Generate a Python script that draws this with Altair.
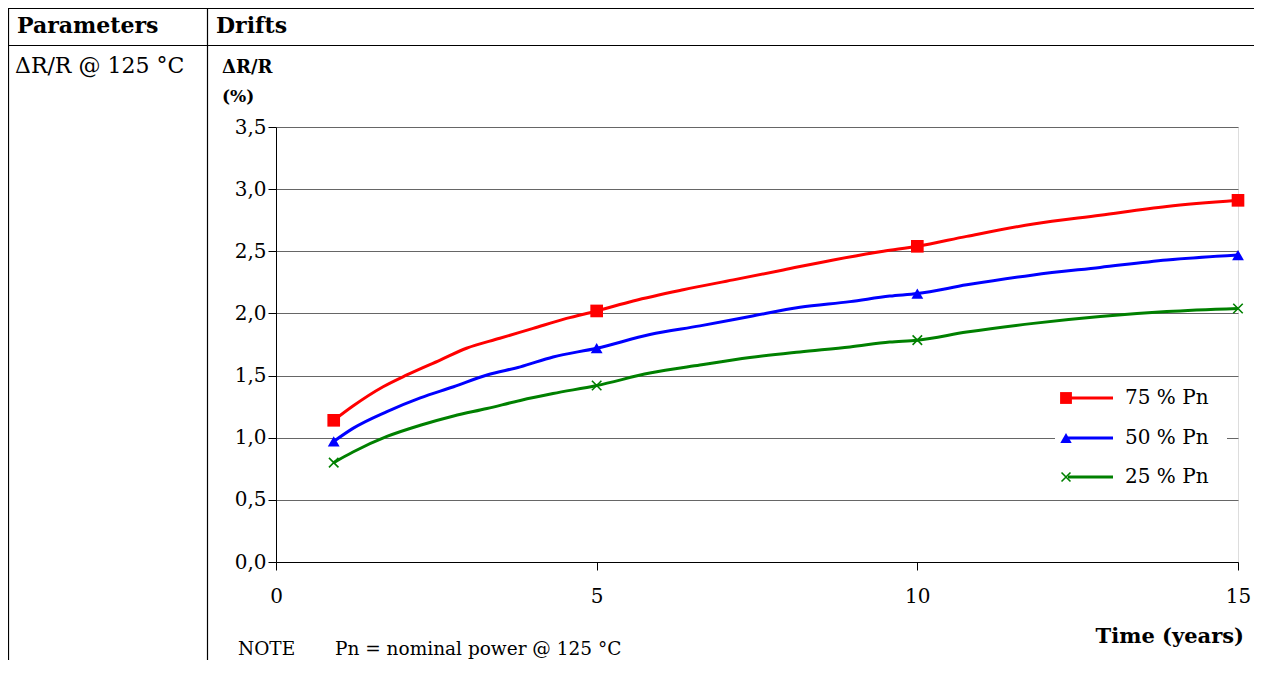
import altair as alt
import pandas as pd

# ---- data ----
series_names = ["75 % Pn", "50 % Pn", "25 % Pn"]
series_colors = ["#ff0000", "#0000ff", "#008000"]

years_75 = [0.9, 1.2, 1.67, 2.04, 2.56, 2.97, 3.49, 4.01, 4.53, 5.0, 5.57, 6.35,
            7.13, 7.91, 8.69, 9.47, 10.0, 10.77, 11.81, 12.85, 13.89, 15.0]
drift_75 = [1.14, 1.255, 1.41, 1.505, 1.625, 1.72, 1.80, 1.88, 1.96, 2.02, 2.10, 2.19,
            2.27, 2.35, 2.43, 2.50, 2.54, 2.62, 2.72, 2.79, 2.86, 2.91]

years_50 = [0.9, 1.2, 1.73, 2.25, 2.77, 3.29, 3.81, 4.32, 5.0, 5.83, 6.61, 7.39,
            8.17, 8.95, 9.57, 10.0, 10.77, 11.81, 12.85, 13.89, 15.0]
drift_50 = [0.97, 1.075, 1.21, 1.32, 1.41, 1.505, 1.57, 1.65, 1.72, 1.83, 1.90, 1.975,
            2.05, 2.095, 2.14, 2.16, 2.23, 2.31, 2.37, 2.43, 2.47]

years_25 = [0.9, 1.2, 1.73, 2.25, 2.77, 3.29, 3.81, 4.32, 5.0, 5.83, 6.61, 7.39,
            8.17, 8.95, 9.57, 10.0, 10.77, 11.81, 12.85, 13.89, 15.0]
drift_25 = [0.80, 0.885, 1.01, 1.10, 1.175, 1.235, 1.30, 1.355, 1.42, 1.52, 1.585, 1.645,
            1.69, 1.73, 1.77, 1.785, 1.85, 1.92, 1.975, 2.015, 2.04]

marker_years = [0.9, 5.0, 10.0, 15.0]
y_ticks = [0, 0.5, 1.0, 1.5, 2.0, 2.5, 3.0, 3.5]
x_ticks = [0, 5, 10, 15]

rows = []
for name, ys, vs in zip(series_names, [years_75, years_50, years_25],
                        [drift_75, drift_50, drift_25]):
    for t, v in zip(ys, vs):
        rows.append({"series": name, "year": t, "drift": v,
                     "marker": t in marker_years})
df = pd.DataFrame(rows)

FONT = "DejaVu Serif"
W, H = 962, 435
PAD_L, PAD_T, PAD_R, PAD_B = 268, 119, 16, 98

xscale = alt.Scale(domain=[0, 15], nice=False, zero=True)
yscale = alt.Scale(domain=[0, 3.5], nice=False)
cscale = alt.Scale(domain=series_names, range=series_colors)

base = alt.Chart(df)

lines = base.mark_line(strokeWidth=3, interpolate="monotone").encode(
    x=alt.X("year:Q", scale=xscale,
            axis=alt.Axis(values=x_ticks, format="d", title=None, grid=False,
                          tickSize=8, tickColor="black", domainColor="black",
                          labelColor="black", labelFont=FONT, labelFontSize=20,
                          labelPadding=16, labelFlush=False)),
    y=alt.Y("drift:Q", scale=yscale,
            axis=alt.Axis(values=y_ticks, title=None, grid=True, gridColor="#666666",
                          gridWidth=1, tickSize=8, tickColor="black",
                          domainColor="black", labelColor="black", labelFont=FONT,
                          labelFontSize=20, labelPadding=2,
                          labelExpr="replace(format(datum.value, '.1f'), '.', ',')")),
    color=alt.Color("series:N", scale=cscale, legend=None),
    detail="series:N",
)

def marker_layer(name, **mk):
    return alt.Chart(df).transform_filter(
        (alt.datum.series == name) & (alt.datum.marker == True)
    ).mark_point(**mk).encode(
        x=alt.X("year:Q", scale=xscale),
        y=alt.Y("drift:Q", scale=yscale),
    )

XPATH = "M-1,-1L1,1M-1,1L1,-1"

m75 = marker_layer(series_names[0], shape="square", filled=True, size=160,
                   color=series_colors[0], opacity=1)
m50 = marker_layer(series_names[1], shape="triangle-up", filled=True, size=140,
                   color=series_colors[1], opacity=1)
m25 = marker_layer(series_names[2], shape=XPATH, filled=False, size=90,
                   stroke=series_colors[2], strokeWidth=1.6, opacity=1)

one = pd.DataFrame({"k": [0]})

def text(t, x, y, size, bold=False, align="left", baseline="alphabetic"):
    return alt.Chart(one).mark_text(
        text=t, font=FONT, fontSize=size, fontWeight="bold" if bold else "normal",
        align=align, baseline=baseline, color="black"
    ).encode(x=alt.value(x), y=alt.value(y))

def rule(x, x2, y, y2, color="black", width=1.2):
    return alt.Chart(one).mark_rule(color=color, strokeWidth=width).encode(
        x=alt.value(x), x2=alt.value(x2), y=alt.value(y), y2=alt.value(y2))

# legend (drawn manually to reproduce line+marker keys)
legend_box = alt.Chart(one).mark_rect(fill="white").encode(
    x=alt.value(779), x2=alt.value(951), y=alt.value(253), y2=alt.value(363))
legend_layers = [legend_box]
leg_y = [271, 311, 350]
leg_shapes = [dict(shape="square", filled=True, size=140),
              dict(shape="triangle-up", filled=True, size=130),
              dict(shape=XPATH, filled=False, size=80, strokeWidth=1.6)]
for name, col, ly, shp in zip(series_names, series_colors, leg_y, leg_shapes):
    legend_layers.append(rule(792, 837, ly, ly, color=col, width=3))
    if shp.get("filled", True):
        legend_layers.append(alt.Chart(one).mark_point(color=col, opacity=1, **shp)
                             .encode(x=alt.value(790), y=alt.value(ly)))
    else:
        legend_layers.append(alt.Chart(one).mark_point(stroke=col, opacity=1, **shp)
                             .encode(x=alt.value(790), y=alt.value(ly)))
    legend_layers.append(text(name, 849, ly, 20, baseline="middle"))

# table frame and texts
frame = [
    rule(-268, W + PAD_R, -118.5, -118.5),
    rule(-268, W + PAD_R, -81.5, -81.5),
    rule(-267.5, -267.5, -119, H + PAD_B),
    rule(-68.5, -68.5, -119, H + PAD_B),
]
texts = [
    text("Parameters", -259, -94, 22, bold=True),
    text("Drifts", -60, -94, 22, bold=True),
    text("\u0394R/R @ 125 \u00b0C", -261, -54, 22),
    text("\u0394R/R", -54, -54, 18, bold=True),
    text("(%)", -54, -25, 17, bold=True),
    text("Time (years)", 968, 516, 21, bold=True, align="right"),
    text("NOTE", -38, 528, 18.5),
    text("Pn = nominal power @ 125 \u00b0C", 59, 528, 18.5),
]

chart = alt.layer(
    lines, m75, m50, m25, *legend_layers, *frame, *texts
).properties(
    width=W, height=H,
    autosize=alt.AutoSizeParams(type="none"),
    padding={"left": PAD_L, "top": PAD_T, "right": PAD_R, "bottom": PAD_B},
).configure_view(
    stroke="#888888", strokeWidth=1.5
).configure(background="white")

chart.save("out.html", embed_options={"renderer": "svg", "actions": False})
